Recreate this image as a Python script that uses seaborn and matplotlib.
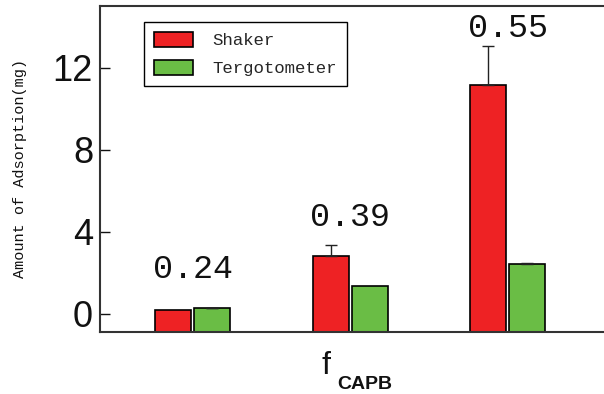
import numpy as np
import pandas as pd
import matplotlib
matplotlib.use("Agg")
import matplotlib.pyplot as plt
from matplotlib.patches import Patch
import seaborn as sns

# CAPB fractions (group labels) and the two mixing methods
groups = ["0.24", "0.39", "0.55"]
methods = ["Shaker", "Tergotometer"]

# Amount of adsorption (mg) and upper error for each method
shaker = [0.16, 2.80, 11.17]
shaker_err = [0.0, 0.53, 1.88]
tergo = [0.26, 1.35, 2.44]
tergo_err = [0.03, 0.0, 0.03]

yticks = [0, 4, 8, 12]
colors = ["#EE2224", "#6ABD45"]

# baseline height of each group label above its bars
label_y = [1.72, 4.26, 13.5]

sns.set_style("white")
mono = ["Liberation Mono", "DejaVu Sans Mono"]
sans = ["Liberation Sans", "DejaVu Sans"]
plt.rcParams["font.family"] = sans

df = pd.DataFrame({
    "group": groups * 2,
    "method": [methods[0]] * len(groups) + [methods[1]] * len(groups),
    "value": shaker + tergo,
})

W, H = 604, 394
fig = plt.figure(figsize=(W / 100, H / 100), dpi=100)
ax = fig.add_axes([100 / W, 1 - 332 / H, 504 / W, 326 / H])

sns.barplot(data=df, x="group", y="value", hue="method", order=groups,
            hue_order=methods, palette=colors, width=0.496, gap=0.077,
            edgecolor="black", linewidth=1.2, errorbar=None, legend=False,
            saturation=1, ax=ax)

ymin, ymax = -0.9, 15.0
ax.set_ylim(ymin, ymax)
ax.set_xlim(-0.59, 2.61)

# bars rise from the bottom edge of the plot frame
for p in ax.patches:
    top = p.get_y() + p.get_height()
    p.set_y(ymin)
    p.set_height(top - ymin)

# one-sided (upper) error bars
for cont, vals, errs in zip(ax.containers, [shaker, tergo], [shaker_err, tergo_err]):
    xs = [p.get_x() + p.get_width() / 2 for p in cont]
    for x, v, e in zip(xs, vals, errs):
        if e > 0:
            ax.errorbar([x], [v], yerr=[[0], [e]], fmt="none", ecolor="#222222",
                        elinewidth=1.0, capsize=4.6, capthick=1.0, zorder=3)

# group labels (CAPB fraction)
for i, (g, y) in enumerate(zip(groups, label_y)):
    ax.text(i, y, g, ha="center", va="baseline", fontsize=24, family=mono,
            color="#111111")

# axes styling
for side in ["left", "top", "bottom"]:
    ax.spines[side].set_visible(True)
    ax.spines[side].set_color("#333333")
    ax.spines[side].set_linewidth(1.5)
ax.spines["right"].set_visible(False)

ax.set_yticks(yticks)
ax.set_yticklabels([str(t) for t in yticks])
ax.tick_params(axis="y", direction="in", length=7, width=1.0, labelsize=26,
               pad=5, colors="#111111", left=True)
ax.set_xticks([])
ax.set_xlabel("")
ax.set_ylabel("")

fig.text(20 / W, 1 - 168 / H, "Amount of Adsorption(mg)", rotation=90,
         ha="center", va="center", fontsize=11, family=mono, color="#111111")

# x-axis label: f with subscript CAPB
fig.text(321 / W, 1 - 374 / H, "f", ha="left", va="baseline", fontsize=23,
         family=sans, color="#111111")
fig.text(337 / W, 1 - 389 / H, "CAPB", ha="left", va="baseline", fontsize=14,
         family=sans, color="#111111", fontweight="bold")

handles = [Patch(facecolor=c, edgecolor="black", linewidth=1.2, label=m)
           for c, m in zip(colors, methods)]
leg = ax.legend(handles=handles, loc="upper left",
                bbox_to_anchor=(144 / W, 1 - 22 / H), bbox_transform=fig.transFigure,
                prop={"family": mono, "size": 12.5}, frameon=True, fancybox=False,
                edgecolor="black", framealpha=1, borderpad=0.55, handlelength=2.25,
                handleheight=1.0, handletextpad=1.15, labelspacing=0.65,
                borderaxespad=0)
leg.get_frame().set_linewidth(1.0)

fig.savefig("out.png", dpi=100)
